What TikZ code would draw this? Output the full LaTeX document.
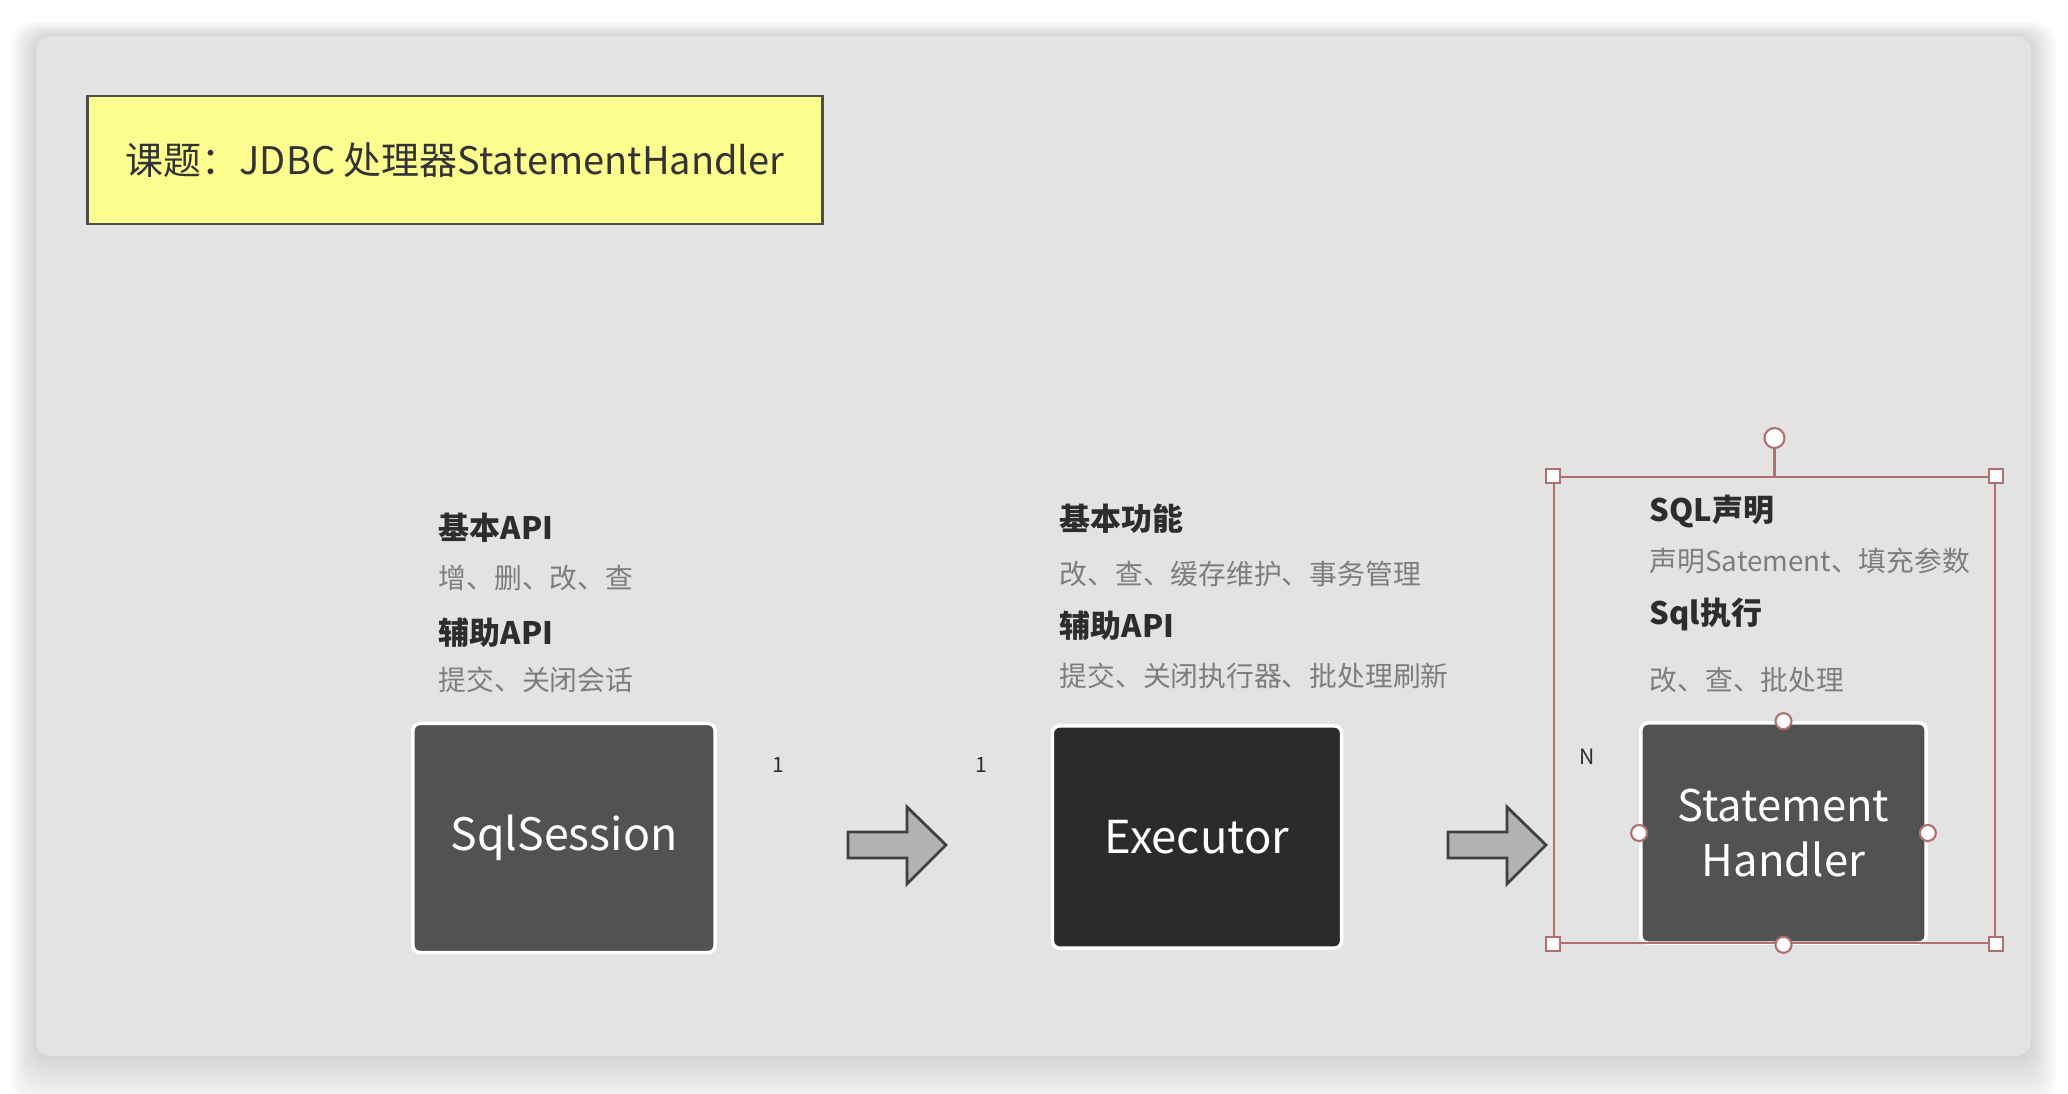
\documentclass[tikz,border=0pt]{standalone}
\usepackage{fontspec}
\setmainfont{Noto Sans CJK SC}
\usepackage{xcolor}
\usepackage{tikz}
\usetikzlibrary{positioning}

\definecolor{panelgray}{RGB}{227,227,227}
\definecolor{notebg}{RGB}{253,252,143}
\definecolor{boxgray}{RGB}{82,82,82}
\definecolor{boxdark}{RGB}{43,43,43}
\definecolor{headtxt}{RGB}{45,45,45}
\definecolor{subtxt}{RGB}{125,125,125}
\definecolor{arrowfill}{RGB}{178,178,178}
\definecolor{selred}{RGB}{176,112,112}

\tikzset{
  block/.style={rounded corners=2pt, draw=white, line width=1pt, text=white, align=center, inner sep=0pt},
  head/.style={anchor=base west, inner sep=0pt, text=headtxt, font=\fontsize{8.8}{10}\selectfont\bfseries},
  sub/.style={anchor=base west, inner sep=0pt, text=subtxt, font=\fontsize{7.9}{10}\selectfont},
  mult/.style={inner sep=0pt, text=headtxt, font=\fontsize{6}{7}\selectfont},
  handle/.style={draw=selred, fill=white, line width=0.6pt, inner sep=0pt},
}

\begin{document}
\begin{tikzpicture}[x=0.01cm, y=-0.01cm]
\useasboundingbox (0,0) rectangle (2068,1094);
\fill[white] (0,0) rectangle (2068,1094);
% soft shadow under the panel
\foreach \i in {1,...,14}{
  \fill[black, opacity=0.013, rounded corners=0.2cm]
    (36-1.8*\i,36-1.0*\i) rectangle (2031+1.8*\i,1056+3.8*\i);
}
\fill[panelgray, rounded corners=0.15cm] (36,36) rectangle (2031,1056);

\node[draw=black!70, line width=0.8pt, fill=notebg, minimum width=7.34cm, minimum height=1.28cm,
  font=\fontsize{10.8}{13}\selectfont, text=black!80] (topic) at (455,160) {课题：JDBC 处理器StatementHandler};

% the three boxes
\node[block, fill=boxgray, minimum width=3.02cm, minimum height=2.29cm,
  font=\fontsize{12.7}{15}\selectfont] (sqlsession) at (564,838) {SqlSession};
\node[block, fill=boxdark, minimum width=2.89cm, minimum height=2.22cm,
  font=\fontsize{12.9}{15}\selectfont] (executor) at (1197,837) {Executor};
\node[block, fill=boxgray, minimum width=2.85cm, minimum height=2.2cm,
  font=\fontsize{12.4}{15.6}\selectfont] (stmthandler) at (1783.5,833) {Statement\\Handler};

% notes above each box
\node[head] (sessBasic) at (438,540) {基本API};
\node[sub] (sessBasicTxt) at (438,588) {增、删、改、查};
\node[head] (sessAux) at (438,645) {辅助API};
\node[sub] (sessAuxTxt) at (438,691) {提交、关闭会话};

\node[head] (execBasic) at (1059,531) {基本功能};
\node[sub] (execBasicTxt) at (1059,585) {改、查、缓存维护、事务管理};
\node[head] (execAux) at (1059,638) {辅助API};
\node[sub] (execAuxTxt) at (1059,686) {提交、关闭执行器、批处理刷新};

\node[head] (stmtDecl) at (1649,522) {SQL声明};
\node[sub] (stmtDeclTxt) at (1649,572) {声明Satement、填充参数};
\node[head] (stmtExec) at (1649,624) {Sql执行};
\node[sub] (stmtExecTxt) at (1649,690) {改、查、批处理};

\node[mult] (oneA) at (778,765) {1};
\node[mult] (oneB) at (981,765) {1};
\node[mult] (many) at (1587,757) {N};

% block arrows
\foreach \x in {848,1448}{
  \filldraw[fill=arrowfill, draw=black!75, line width=0.8pt, line join=miter]
    (\x,832) -- (\x+59,832) -- (\x+59,807) -- (\x+98,845) -- (\x+59,884) -- (\x+59,858) -- (\x,858) -- cycle;
}

% selection frame
\node[draw=selred, line width=0.5pt, minimum width=4.41cm, minimum height=4.66cm, inner sep=0pt] (selbox) at (1774.5,710) {};
\node[handle, circle, minimum size=0.2cm] (rot) at (1774.5,438) {};
\draw[selred, line width=0.6pt] (rot) -- (selbox.north);
\foreach \c in {north west,north east,south west,south east}{
  \node[handle, minimum size=0.14cm] at (selbox.\c) {};
}
\foreach \c in {north,south,east,west}{
  \node[handle, circle, minimum size=0.16cm] at (stmthandler.\c) {};
}
\end{tikzpicture}
\end{document}
